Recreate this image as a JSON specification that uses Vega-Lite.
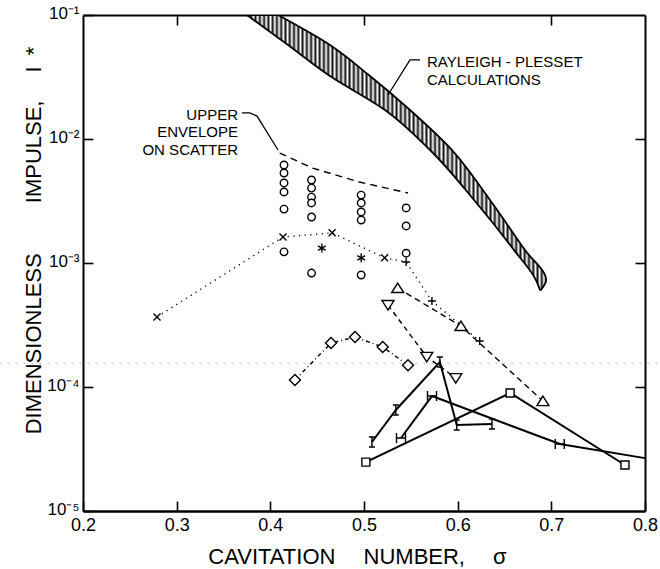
{
  "$schema": "https://vega.github.io/schema/vega-lite/v6.json",
  "width": 562,
  "height": 496,
  "autosize": {"type": "none"},
  "padding": {"left": 83, "top": 15, "right": 15, "bottom": 58},
  "background": "white",
  "config": {
    "view": {"stroke": null},
    "font": "Liberation Sans",
    "axis": {
      "grid": false,
      "domainColor": "black",
      "tickColor": "black",
      "labelColor": "black",
      "titleColor": "black",
      "labelFont": "Liberation Sans",
      "titleFont": "Liberation Sans",
      "titleFontWeight": "normal",
      "tickWidth": 1.6,
      "labelFlush": false,
      "labelOverlap": false,
      "labelBound": false,
      "zindex": 1
    }
  },
  "datasets": {
    "band": [
      {"impulse": 0.1, "left": 0.3751, "right": 0.4082},
      {"impulse": 0.0573, "left": 0.4189, "right": 0.4637},
      {"impulse": 0.0322, "left": 0.4637, "right": 0.5064},
      {"impulse": 0.01714, "left": 0.5224, "right": 0.5491},
      {"impulse": 0.00815, "left": 0.5705, "right": 0.5939},
      {"impulse": 0.00322, "left": 0.6175, "right": 0.6345},
      {"impulse": 0.00127, "left": 0.6602, "right": 0.6719},
      {"impulse": 0.000729, "left": 0.6836, "right": 0.6944},
      {"impulse": 0.000606, "left": 0.6879, "right": 0.689}
    ],
    "haze": [
      {"from": 0.111, "to": 0.816, "impulse": 0.000155}
    ],
    "pts": [
      {"series": "scat", "mk": "o", "sigma": 0.4146, "impulse": 0.00617},
      {"series": "scat", "mk": "o", "sigma": 0.4146, "impulse": 0.00532},
      {"series": "scat", "mk": "o", "sigma": 0.4146, "impulse": 0.00442},
      {"series": "scat", "mk": "o", "sigma": 0.4146, "impulse": 0.00374},
      {"series": "scat", "mk": "o", "sigma": 0.4146, "impulse": 0.00272},
      {"series": "scat", "mk": "o", "sigma": 0.4146, "impulse": 0.00123},
      {"series": "scat", "mk": "o", "sigma": 0.444, "impulse": 0.00467},
      {"series": "scat", "mk": "o", "sigma": 0.444, "impulse": 0.00402},
      {"series": "scat", "mk": "o", "sigma": 0.444, "impulse": 0.0034},
      {"series": "scat", "mk": "o", "sigma": 0.444, "impulse": 0.00305},
      {"series": "scat", "mk": "o", "sigma": 0.444, "impulse": 0.00235},
      {"series": "scat", "mk": "o", "sigma": 0.444, "impulse": 0.00083},
      {"series": "scat", "mk": "o", "sigma": 0.497, "impulse": 0.00353},
      {"series": "scat", "mk": "o", "sigma": 0.497, "impulse": 0.00305},
      {"series": "scat", "mk": "o", "sigma": 0.497, "impulse": 0.00258},
      {"series": "scat", "mk": "o", "sigma": 0.497, "impulse": 0.00222},
      {"series": "scat", "mk": "o", "sigma": 0.497, "impulse": 0.0008},
      {"series": "scat", "mk": "o", "sigma": 0.545, "impulse": 0.00278},
      {"series": "scat", "mk": "o", "sigma": 0.545, "impulse": 0.00199},
      {"series": "scat", "mk": "o", "sigma": 0.545, "impulse": 0.0012},
      {"series": "star", "mk": "star", "sigma": 0.455, "impulse": 0.00132},
      {"series": "star", "mk": "star", "sigma": 0.497, "impulse": 0.0011},
      {"series": "xs", "mk": "x", "sigma": 0.279, "impulse": 0.000367},
      {"series": "xs", "mk": "x", "sigma": 0.4135, "impulse": 0.00162},
      {"series": "xs", "mk": "x", "sigma": 0.466, "impulse": 0.00175},
      {"series": "xs", "mk": "x", "sigma": 0.522, "impulse": 0.0011},
      {"series": "xs", "mk": "plus", "sigma": 0.545, "impulse": 0.00102},
      {"series": "xs", "mk": "plus", "sigma": 0.5725, "impulse": 0.000494},
      {"series": "xs", "mk": "plus", "sigma": 0.6235, "impulse": 0.000235},
      {"series": "tri", "mk": "tu", "sigma": 0.536, "impulse": 0.000628},
      {"series": "tri", "mk": "tu", "sigma": 0.6035, "impulse": 0.00031},
      {"series": "tri", "mk": "tu", "sigma": 0.691, "impulse": 0.000077},
      {"series": "nab", "mk": "td", "sigma": 0.5256, "impulse": 0.000458},
      {"series": "nab", "mk": "td", "sigma": 0.567, "impulse": 0.000175},
      {"series": "nab", "mk": "td", "sigma": 0.598, "impulse": 0.000118},
      {"series": "dia", "mk": "dm", "sigma": 0.4263, "impulse": 0.000114},
      {"series": "dia", "mk": "dm", "sigma": 0.4648, "impulse": 0.000226},
      {"series": "dia", "mk": "dm", "sigma": 0.4904, "impulse": 0.000253},
      {"series": "dia", "mk": "dm", "sigma": 0.52, "impulse": 0.00021},
      {"series": "dia", "mk": "dm", "sigma": 0.547, "impulse": 0.00015},
      {"series": "ib", "mk": "I", "sigma": 0.5085, "impulse": 0.000036},
      {"series": "ib", "mk": "I", "sigma": 0.534, "impulse": 0.0000653},
      {"series": "ib", "mk": "I", "sigma": 0.581, "impulse": 0.000159},
      {"series": "ib", "mk": "I", "sigma": 0.599, "impulse": 0.0000494},
      {"series": "ib", "mk": "I", "sigma": 0.6366, "impulse": 0.0000503},
      {"series": "hb", "mk": "H", "sigma": 0.5395, "impulse": 0.0000388},
      {"series": "hb", "mk": "H", "sigma": 0.5726, "impulse": 0.0000845},
      {"series": "hb", "mk": "H", "sigma": 0.709, "impulse": 0.0000347},
      {"series": "hb", "mk": null, "sigma": 0.8, "impulse": 0.0000267},
      {"series": "sq", "mk": "sq", "sigma": 0.502, "impulse": 0.0000248},
      {"series": "sq", "mk": "sq", "sigma": 0.656, "impulse": 0.0000895},
      {"series": "sq", "mk": "sq", "sigma": 0.7786, "impulse": 0.0000235},
      {"series": "env", "mk": null, "sigma": 0.41, "impulse": 0.0077},
      {"series": "env", "mk": null, "sigma": 0.445, "impulse": 0.00583},
      {"series": "env", "mk": null, "sigma": 0.495, "impulse": 0.0045},
      {"series": "env", "mk": null, "sigma": 0.547, "impulse": 0.00367}
    ],
    "leaders": [
      {"note": "upper", "sigma": 0.3697, "impulse": 0.01622},
      {"note": "upper", "sigma": 0.378, "impulse": 0.01622},
      {"note": "upper", "sigma": 0.3858, "impulse": 0.01531},
      {"note": "upper", "sigma": 0.4082, "impulse": 0.00815},
      {"note": "rp", "sigma": 0.5256, "impulse": 0.02265},
      {"note": "rp", "sigma": 0.5491, "impulse": 0.0434},
      {"note": "rp", "sigma": 0.5598, "impulse": 0.0434}
    ],
    "notes": [
      {"label": "RAYLEIGH - PLESSET", "sigma": 0.5672, "impulse": 0.0381, "side": "left"},
      {"label": "CALCULATIONS", "sigma": 0.5672, "impulse": 0.02725, "side": "left"},
      {"label": "UPPER", "sigma": 0.3655, "impulse": 0.01423, "side": "right"},
      {"label": "ENVELOPE", "sigma": 0.3655, "impulse": 0.01038, "side": "right"},
      {"label": "ON SCATTER", "sigma": 0.3655, "impulse": 0.00743, "side": "right"}
    ]
  },
  "layer": [
    {
      "data": {"name": "band"},
      "mark": {
        "type": "area",
        "orient": "horizontal",
        "clip": true,
        "interpolate": "monotone",
        "stroke": "black",
        "strokeWidth": 1.8,
        "fill": {
          "gradient": "linear", "x1": 0, "y1": 0, "x2": 1, "y2": 0,
          "stops": [
            {"offset": 0, "color": "#111"}, {"offset": 0.0071, "color": "#fff"}, {"offset": 0.0143, "color": "#111"}, {"offset": 0.0214, "color": "#fff"},
            {"offset": 0.0286, "color": "#111"}, {"offset": 0.0357, "color": "#fff"}, {"offset": 0.0429, "color": "#111"}, {"offset": 0.05, "color": "#fff"},
            {"offset": 0.0571, "color": "#111"}, {"offset": 0.0643, "color": "#fff"}, {"offset": 0.0714, "color": "#111"}, {"offset": 0.0786, "color": "#fff"},
            {"offset": 0.0857, "color": "#111"}, {"offset": 0.0929, "color": "#fff"}, {"offset": 0.1, "color": "#111"}, {"offset": 0.1071, "color": "#fff"},
            {"offset": 0.1143, "color": "#111"}, {"offset": 0.1214, "color": "#fff"}, {"offset": 0.1286, "color": "#111"}, {"offset": 0.1357, "color": "#fff"},
            {"offset": 0.1429, "color": "#111"}, {"offset": 0.15, "color": "#fff"}, {"offset": 0.1571, "color": "#111"}, {"offset": 0.1643, "color": "#fff"},
            {"offset": 0.1714, "color": "#111"}, {"offset": 0.1786, "color": "#fff"}, {"offset": 0.1857, "color": "#111"}, {"offset": 0.1929, "color": "#fff"},
            {"offset": 0.2, "color": "#111"}, {"offset": 0.2071, "color": "#fff"}, {"offset": 0.2143, "color": "#111"}, {"offset": 0.2214, "color": "#fff"},
            {"offset": 0.2286, "color": "#111"}, {"offset": 0.2357, "color": "#fff"}, {"offset": 0.2429, "color": "#111"}, {"offset": 0.25, "color": "#fff"},
            {"offset": 0.2571, "color": "#111"}, {"offset": 0.2643, "color": "#fff"}, {"offset": 0.2714, "color": "#111"}, {"offset": 0.2786, "color": "#fff"},
            {"offset": 0.2857, "color": "#111"}, {"offset": 0.2929, "color": "#fff"}, {"offset": 0.3, "color": "#111"}, {"offset": 0.3071, "color": "#fff"},
            {"offset": 0.3143, "color": "#111"}, {"offset": 0.3214, "color": "#fff"}, {"offset": 0.3286, "color": "#111"}, {"offset": 0.3357, "color": "#fff"},
            {"offset": 0.3429, "color": "#111"}, {"offset": 0.35, "color": "#fff"}, {"offset": 0.3571, "color": "#111"}, {"offset": 0.3643, "color": "#fff"},
            {"offset": 0.3714, "color": "#111"}, {"offset": 0.3786, "color": "#fff"}, {"offset": 0.3857, "color": "#111"}, {"offset": 0.3929, "color": "#fff"},
            {"offset": 0.4, "color": "#111"}, {"offset": 0.4071, "color": "#fff"}, {"offset": 0.4143, "color": "#111"}, {"offset": 0.4214, "color": "#fff"},
            {"offset": 0.4286, "color": "#111"}, {"offset": 0.4357, "color": "#fff"}, {"offset": 0.4429, "color": "#111"}, {"offset": 0.45, "color": "#fff"},
            {"offset": 0.4571, "color": "#111"}, {"offset": 0.4643, "color": "#fff"}, {"offset": 0.4714, "color": "#111"}, {"offset": 0.4786, "color": "#fff"},
            {"offset": 0.4857, "color": "#111"}, {"offset": 0.4929, "color": "#fff"}, {"offset": 0.5, "color": "#111"}, {"offset": 0.5071, "color": "#fff"},
            {"offset": 0.5143, "color": "#111"}, {"offset": 0.5214, "color": "#fff"}, {"offset": 0.5286, "color": "#111"}, {"offset": 0.5357, "color": "#fff"},
            {"offset": 0.5429, "color": "#111"}, {"offset": 0.55, "color": "#fff"}, {"offset": 0.5571, "color": "#111"}, {"offset": 0.5643, "color": "#fff"},
            {"offset": 0.5714, "color": "#111"}, {"offset": 0.5786, "color": "#fff"}, {"offset": 0.5857, "color": "#111"}, {"offset": 0.5929, "color": "#fff"},
            {"offset": 0.6, "color": "#111"}, {"offset": 0.6071, "color": "#fff"}, {"offset": 0.6143, "color": "#111"}, {"offset": 0.6214, "color": "#fff"},
            {"offset": 0.6286, "color": "#111"}, {"offset": 0.6357, "color": "#fff"}, {"offset": 0.6429, "color": "#111"}, {"offset": 0.65, "color": "#fff"},
            {"offset": 0.6571, "color": "#111"}, {"offset": 0.6643, "color": "#fff"}, {"offset": 0.6714, "color": "#111"}, {"offset": 0.6786, "color": "#fff"},
            {"offset": 0.6857, "color": "#111"}, {"offset": 0.6929, "color": "#fff"}, {"offset": 0.7, "color": "#111"}, {"offset": 0.7071, "color": "#fff"},
            {"offset": 0.7143, "color": "#111"}, {"offset": 0.7214, "color": "#fff"}, {"offset": 0.7286, "color": "#111"}, {"offset": 0.7357, "color": "#fff"},
            {"offset": 0.7429, "color": "#111"}, {"offset": 0.75, "color": "#fff"}, {"offset": 0.7571, "color": "#111"}, {"offset": 0.7643, "color": "#fff"},
            {"offset": 0.7714, "color": "#111"}, {"offset": 0.7786, "color": "#fff"}, {"offset": 0.7857, "color": "#111"}, {"offset": 0.7929, "color": "#fff"},
            {"offset": 0.8, "color": "#111"}, {"offset": 0.8071, "color": "#fff"}, {"offset": 0.8143, "color": "#111"}, {"offset": 0.8214, "color": "#fff"},
            {"offset": 0.8286, "color": "#111"}, {"offset": 0.8357, "color": "#fff"}, {"offset": 0.8429, "color": "#111"}, {"offset": 0.85, "color": "#fff"},
            {"offset": 0.8571, "color": "#111"}, {"offset": 0.8643, "color": "#fff"}, {"offset": 0.8714, "color": "#111"}, {"offset": 0.8786, "color": "#fff"},
            {"offset": 0.8857, "color": "#111"}, {"offset": 0.8929, "color": "#fff"}, {"offset": 0.9, "color": "#111"}, {"offset": 0.9071, "color": "#fff"},
            {"offset": 0.9143, "color": "#111"}, {"offset": 0.9214, "color": "#fff"}, {"offset": 0.9286, "color": "#111"}, {"offset": 0.9357, "color": "#fff"},
            {"offset": 0.9429, "color": "#111"}, {"offset": 0.95, "color": "#fff"}, {"offset": 0.9571, "color": "#111"}, {"offset": 0.9643, "color": "#fff"},
            {"offset": 0.9714, "color": "#111"}, {"offset": 0.9786, "color": "#fff"}, {"offset": 0.9857, "color": "#111"}, {"offset": 0.9929, "color": "#fff"},
            {"offset": 1, "color": "#111"}
          ]
        }
      },
      "encoding": {
        "x": {
          "field": "left", "type": "quantitative",
          "scale": {"domain": [0.2, 0.8], "nice": false, "zero": false},
          "axis": {
            "orient": "bottom",
            "values": [0.2, 0.3, 0.4, 0.5, 0.6, 0.7, 0.8],
            "format": ".1f",
            "tickSize": -10,
            "labelPadding": 15,
            "labelFontSize": 18,
            "domainWidth": 2.5,
            "title": "CAVITATION\u2003 NUMBER,\u2003 σ",
            "titleFontSize": 22,
            "titleX": 274,
            "titleY": 52,
            "titleAlign": "center",
            "titleBaseline": "alphabetic"
          }
        },
        "x2": {"field": "right"},
        "y": {
          "field": "impulse", "type": "quantitative",
          "scale": {"type": "log", "domain": [0.00001, 0.1], "nice": false},
          "axis": {
            "orient": "left",
            "values": [0.00001, 0.0001, 0.001, 0.01, 0.1],
            "labelExpr": "['10\u207b\u2075','10\u207b\u2074','10\u207b\u00b3','10\u207b\u00b2','10\u207b\u00b9'][round(log(datum.value)/LN10)+5]",
            "tickSize": -10,
            "labelPadding": 14,
            "labelFontSize": 17,
            "labelBaseline": "middle",
            "labelOffset": -2,
            "domainWidth": 2,
            "title": "DIMENSIONLESS\u2003\u2003 IMPULSE,\u2003 I\u2002*",
            "titleFontSize": 22,
            "titleAngle": 270,
            "titleX": -43,
            "titleY": 225,
            "titleAlign": "center",
            "titleBaseline": "alphabetic"
          }
        }
      }
    },
    {
      "data": {"name": "haze"},
      "mark": {"type": "rule", "color": "#a8a8a8", "strokeWidth": 1, "strokeDash": [1.5, 6.5]},
      "encoding": {
        "x": {
          "field": "from", "type": "quantitative",
          "scale": {"domain": [0.2, 0.8], "nice": false, "zero": false},
          "axis": {
            "orient": "top", "labels": false, "title": null,
            "values": [0.3, 0.5, 0.7], "tickSize": -10, "domainWidth": 2
          }
        },
        "x2": {"field": "to"},
        "y": {
          "field": "impulse", "type": "quantitative",
          "scale": {"type": "log", "domain": [0.00001, 0.1], "nice": false},
          "axis": {
            "orient": "right", "labels": false, "title": null,
            "values": [0.0001, 0.001, 0.01], "tickSize": -10, "domainWidth": 2
          }
        }
      }
    },
    {
      "data": {"name": "pts"},
      "transform": [{"filter": {"field": "series", "oneOf": ["env", "xs", "tri", "nab", "dia"]}}],
      "mark": {"type": "line", "color": "black", "strokeWidth": 1.4},
      "encoding": {
        "x": {"field": "sigma", "type": "quantitative", "scale": {"domain": [0.2, 0.8], "nice": false, "zero": false}, "axis": null},
        "y": {"field": "impulse", "type": "quantitative", "scale": {"type": "log", "domain": [0.00001, 0.1], "nice": false}, "axis": null},
        "strokeDash": {
          "field": "series", "type": "nominal",
          "scale": {"domain": ["env", "xs", "tri", "nab", "dia"], "range": [[7, 5], [1.2, 4.5], [6, 4], [5, 4], [4, 3, 1, 3]]},
          "legend": null
        }
      }
    },
    {
      "data": {"name": "pts"},
      "transform": [{"filter": {"field": "series", "oneOf": ["ib", "hb", "sq"]}}],
      "mark": {"type": "line", "color": "black", "strokeWidth": 2},
      "encoding": {
        "x": {"field": "sigma", "type": "quantitative", "scale": {"domain": [0.2, 0.8], "nice": false, "zero": false}, "axis": null},
        "y": {"field": "impulse", "type": "quantitative", "scale": {"type": "log", "domain": [0.00001, 0.1], "nice": false}, "axis": null},
        "detail": {"field": "series", "type": "nominal"}
      }
    },
    {
      "data": {"name": "leaders"},
      "mark": {"type": "line", "color": "black", "strokeWidth": 1.3},
      "encoding": {
        "x": {"field": "sigma", "type": "quantitative", "scale": {"domain": [0.2, 0.8], "nice": false, "zero": false}, "axis": null},
        "y": {"field": "impulse", "type": "quantitative", "scale": {"type": "log", "domain": [0.00001, 0.1], "nice": false}, "axis": null},
        "detail": {"field": "note", "type": "nominal"}
      }
    },
    {
      "data": {"name": "pts"},
      "transform": [{"filter": "datum.mk != null"}],
      "mark": {"type": "point", "filled": true, "fill": "white", "stroke": "black", "strokeWidth": 1.4, "opacity": 1, "size": 100},
      "encoding": {
        "x": {"field": "sigma", "type": "quantitative", "scale": {"domain": [0.2, 0.8], "nice": false, "zero": false}, "axis": null},
        "y": {"field": "impulse", "type": "quantitative", "scale": {"type": "log", "domain": [0.00001, 0.1], "nice": false}, "axis": null},
        "shape": {
          "field": "mk", "type": "nominal", "legend": null,
          "scale": {
            "domain": ["o", "x", "star", "plus", "tu", "td", "dm", "sq", "I", "H"],
            "range": [
              "M0.75,0A0.75,0.75,0,1,1,-0.75,0A0.75,0.75,0,1,1,0.75,0Z",
              "M-0.7,-0.7L0.7,0.7M-0.7,0.7L0.7,-0.7",
              "M0,-0.9V0.9M-0.78,-0.45L0.78,0.45M-0.78,0.45L0.78,-0.45",
              "M-0.8,0H0.8M0,-0.8V0.8",
              "M0,-1L1.2,0.9L-1.2,0.9Z",
              "M0,1L1.2,-0.9L-1.2,-0.9Z",
              "M0,-1.1L1.1,0L0,1.1L-1.1,0Z",
              "M-0.8,-0.8H0.8V0.8H-0.8Z",
              "M-0.6,-1H0.6M0,-1V1M-0.6,1H0.6",
              "M-0.9,-1V1M0.9,-1V1M-0.9,0H0.9"
            ]
          }
        }
      }
    },
    {
      "data": {"name": "notes"},
      "transform": [{"filter": "datum.side == 'left'"}],
      "mark": {"type": "text", "align": "left", "baseline": "alphabetic", "fontSize": 15, "font": "Liberation Sans", "color": "black"},
      "encoding": {
        "x": {"field": "sigma", "type": "quantitative", "scale": {"domain": [0.2, 0.8], "nice": false, "zero": false}, "axis": null},
        "y": {"field": "impulse", "type": "quantitative", "scale": {"type": "log", "domain": [0.00001, 0.1], "nice": false}, "axis": null},
        "text": {"field": "label"}
      }
    },
    {
      "data": {"name": "notes"},
      "transform": [{"filter": "datum.side == 'right'"}],
      "mark": {"type": "text", "align": "right", "baseline": "alphabetic", "fontSize": 15, "font": "Liberation Sans", "color": "black"},
      "encoding": {
        "x": {"field": "sigma", "type": "quantitative", "scale": {"domain": [0.2, 0.8], "nice": false, "zero": false}, "axis": null},
        "y": {"field": "impulse", "type": "quantitative", "scale": {"type": "log", "domain": [0.00001, 0.1], "nice": false}, "axis": null},
        "text": {"field": "label"}
      }
    }
  ],
  "resolve": {"axis": {"x": "independent", "y": "independent"}}
}
